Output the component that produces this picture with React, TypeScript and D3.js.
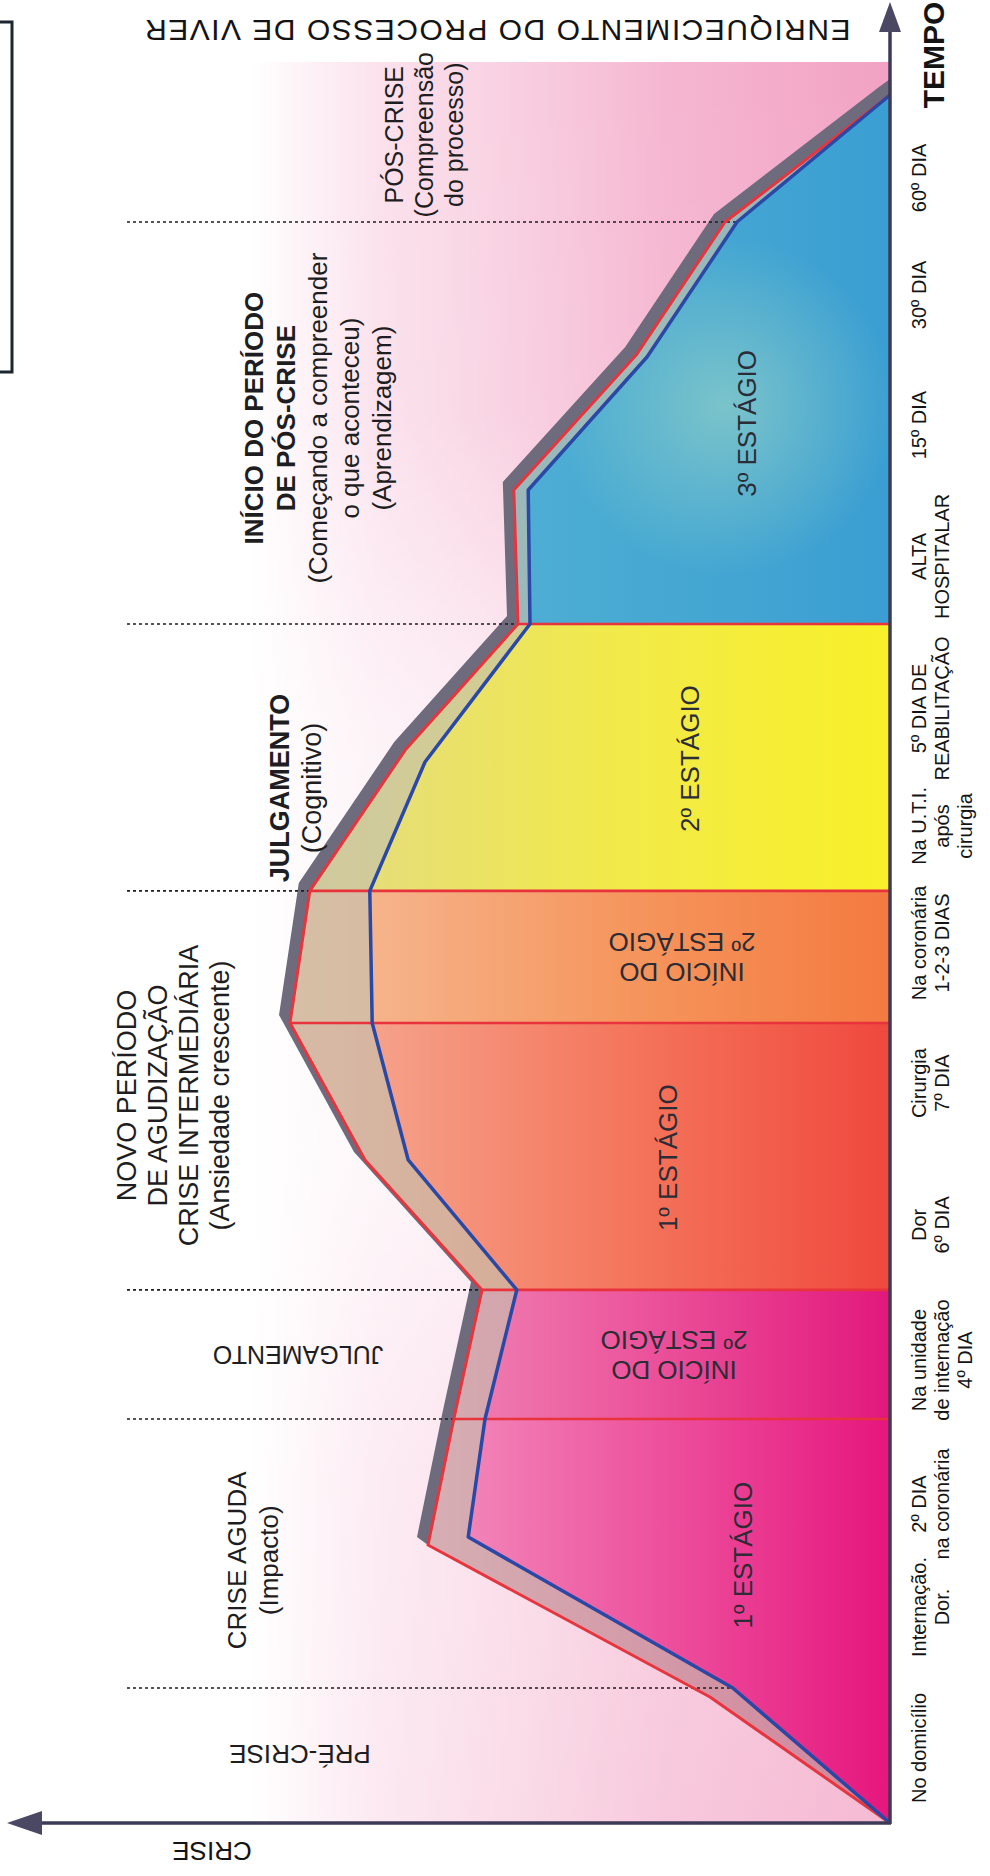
import React from 'react';
import * as d3 from 'd3';

const WIDTH = 990;
const HEIGHT = 1876;

// [tempo, crise] - outer (red) and inner (blue) course of the crisis
const outerCurve: [number, number][] = [
  [0, 0], [7.29, 30.0], [16.09, 77.0], [23.38, 72.7], [30.85, 68.0], [38.37, 87.5],
  [46.3, 100], [53.94, 96.7], [62.09, 80.8], [69.39, 62.0], [77.14, 62.7],
  [84.95, 42.3], [92.65, 27.5], [100, 0],
];
const innerCurve: [number, number][] = [
  [0, 0], [7.81, 26.2], [16.55, 70.3], [23.38, 67.5], [30.85, 62.2], [38.37, 80.3],
  [46.3, 86.3], [53.94, 86.7], [61.4, 77.5], [69.39, 60.0], [77.14, 60.3],
  [84.84, 40.5], [92.65, 25.5], [100, 0],
];

const stageEdges = [0, 23.38, 30.85, 46.3, 53.94, 69.39, 100];
const stageNames = [
  ['1º ESTÁGIO'],
  ['INÍCIO DO', '2º ESTÁGIO'],
  ['1º ESTÁGIO'],
  ['INÍCIO DO', '2º ESTÁGIO'],
  ['2º ESTÁGIO'],
  ['3º ESTÁGIO'],
];

const periodEdges = [7.81, 23.38, 30.85, 53.94, 69.39, 92.65];
const periodNames = [
  ['PRÉ-CRISE'],
  ['CRISE AGUDA', '(Impacto)'],
  ['JULGAMENTO'],
  ['NOVO PERÍODO', 'DE AGUDIZAÇÃO', 'CRISE INTERMEDIÁRIA', '(Ansiedade crescente)'],
  ['JULGAMENTO', '(Cognitivo)'],
  ['INÍCIO DO PERÍODO', 'DE PÓS-CRISE', '(Começando a compreender', 'o que aconteceu)', '(Aprendizagem)'],
  ['PÓS-CRISE', '(Compreensão', 'do processo)'],
];

const timeTicks = [4.34, 12.5, 18.46, 26.79, 34.61, 42.82, 50.93, 57.7, 64.5, 73.3, 80.9, 88.43, 95.2];
const timeLabels = [
  ['No domicílio'],
  ['Internação.', 'Dor.'],
  ['2º DIA', 'na coronária'],
  ['Na unidade', 'de internação', '4º DIA'],
  ['Dor', '6º DIA'],
  ['Cirurgia', '7º DIA'],
  ['Na coronária', '1-2-3 DIAS'],
  ['Na U.T.I.', 'após', 'cirurgia'],
  ['5º DIA DE', 'REABILITAÇÃO'],
  ['ALTA', 'HOSPITALAR'],
  ['15º DIA'],
  ['30º DIA'],
  ['60º DIA'],
];

// styling
const FONT = 'Liberation Sans, Arial, Helvetica, sans-serif';
const stageGradients = [
  ['#f6b0ce', '#ee5aa2', '#e6167e'],
  ['#f2a4c4', '#ec589e', '#e2187c'],
  ['#f6ae98', '#f4765c', '#f0483e'],
  ['#f6bc98', '#f5965e', '#f47a40'],
  ['#e2da86', '#f2ea48', '#f8f028'],
  ['#5cb4d8', '#48aad2', '#3a9ed2'],
];
const stageLabelPos = [
  { t: 15.5, x: 743, rot: -90 },
  { t: 27.1, x: 674, rot: 180 },
  { t: 38.5, x: 668, rot: -90 },
  { t: 50.1, x: 682, rot: 180 },
  { t: 61.6, x: 690, rot: -90 },
  { t: 81.0, x: 747, rot: -90 },
];
// x centre, rotation, font size, line gap, bold lines, t centre
const periodLabelPos = [
  { x: 300, rot: 180, size: 26, gap: 30, bold: 0, t: 4.0 },
  { x: 253, rot: -90, size: 26, gap: 32, bold: 0, t: 15.2 },
  { x: 298, rot: 180, size: 25, gap: 30, bold: 0, t: 27.1 },
  { x: 173, rot: -90, size: 27, gap: 31, bold: 0, t: 42.1 },
  { x: 296, rot: -90, size: 27, gap: 32, bold: 1, t: 59.9 },
  { x: 318, rot: -90, size: 26, gap: 32, bold: 2, t: 81.3 },
  { x: 424, rot: -90, size: 25, gap: 30, bold: 0, t: 97.7 },
];

const crisisAt = (curve: [number, number][], t: number) => {
  for (let i = 1; i < curve.length; i++) {
    const [t0, c0] = curve[i - 1];
    const [t1, c1] = curve[i];
    if (t <= t1) return t1 === t0 ? c1 : c0 + ((c1 - c0) * (t - t0)) / (t1 - t0);
  }
  return curve[curve.length - 1][1];
};

const Lines: React.FC<{ cx: number; cy: number; rot: number; lines: string[]; size: number; gap: number; weights?: (i: number) => number; fill?: string; spacing?: number }> = ({ cx, cy, rot, lines, size, gap, weights, fill = '#1e1e22', spacing = 0 }) => (
  <text transform={`translate(${cx},${cy}) rotate(${rot})`} textAnchor="middle" fontFamily={FONT} fontSize={size} fill={fill} letterSpacing={spacing}>
    {lines.map((s, i) => (
      <tspan key={i} x={0} y={(i - (lines.length - 1) / 2) * gap} dominantBaseline="central" fontWeight={weights ? weights(i) : 400}>
        {s}
      </tspan>
    ))}
  </text>
);

const App: React.FC = () => {
  const y = d3.scaleLinear().domain([0, 100]).range([1823, 95]);
  const x = d3.scaleLinear().domain([0, 100]).range([890, 290]);
  const line = d3.line<[number, number]>().x((d) => x(d[1])).y((d) => y(d[0]));

  const outerPath = line(outerCurve) as string;
  const innerPath = line(innerCurve) as string;

  const toPt = ([t, c]: [number, number]) => [x(c), y(t)] as [number, number];

  // ring between red and blue courses
  const ringPts = [...outerCurve.map(toPt), ...innerCurve.slice().reverse().map(toPt)];
  const ringPath = 'M' + ringPts.map((p) => p.join(',')).join('L') + 'Z';

  // grey shadow strip along the outer course, from the first peak on
  const fromPeak = outerCurve.slice(2);
  const shadowPts: [number, number][] = [
    ...fromPeak.map(([t, c]) => [x(c) - 11, y(t) - 8] as [number, number]),
    [x(0), y(100) - 16],
    ...fromPeak.slice().reverse().map(toPt),
  ];
  const shadowPath = 'M' + shadowPts.map((p) => p.join(',')).join('L') + 'Z';

  const axisX = x(0);
  const axisY = y(0);

  return (
    <svg width={WIDTH} height={HEIGHT} viewBox={`0 0 ${WIDTH} ${HEIGHT}`} style={{ position: 'absolute', left: 0, top: 0, background: '#fff' }}>
      <defs>
        <linearGradient id="bgH" gradientUnits="userSpaceOnUse" x1={250} y1={0} x2={890} y2={0}>
          <stop offset="0" stopColor="#f7c4da" stopOpacity={0} />
          <stop offset="0.2" stopColor="#f7c4da" stopOpacity={0.5} />
          <stop offset="0.65" stopColor="#f4aecb" stopOpacity={0.9} />
          <stop offset="1" stopColor="#f2a2c4" stopOpacity={1} />
        </linearGradient>
        <linearGradient id="bgV" gradientUnits="userSpaceOnUse" x1={0} y1={62} x2={0} y2={1823}>
          <stop offset="0" stopColor="#fff" stopOpacity={0} />
          <stop offset="0.2" stopColor="#fff" stopOpacity={0.05} />
          <stop offset="0.38" stopColor="#fff" stopOpacity={0.6} />
          <stop offset="0.62" stopColor="#fff" stopOpacity={0.72} />
          <stop offset="0.8" stopColor="#fff" stopOpacity={0.35} />
          <stop offset="1" stopColor="#fff" stopOpacity={0.25} />
        </linearGradient>
        {stageGradients.map((g, i) => (
          <linearGradient key={i} id={`stage${i}`} gradientUnits="userSpaceOnUse" x1={300} y1={0} x2={890} y2={0}>
            <stop offset="0" stopColor={g[0]} />
            <stop offset="0.55" stopColor={g[1]} />
            <stop offset="1" stopColor={g[2]} />
          </linearGradient>
        ))}
        <radialGradient id="blueGlow" gradientUnits="userSpaceOnUse" cx={725} cy={y(82)} r={170}>
          <stop offset="0" stopColor="#a8dcc4" stopOpacity={0.55} />
          <stop offset="1" stopColor="#a8dcc4" stopOpacity={0} />
        </radialGradient>
        <clipPath id="under">
          <path d={outerPath + 'Z'} />
        </clipPath>
      </defs>

      {/* background */}
      <rect x={100} y={62} width={axisX - 100} height={axisY - 62} fill="url(#bgH)" />
      <rect x={100} y={62} width={axisX - 100} height={axisY - 62} fill="url(#bgV)" />

      {/* shadow strip */}
      <path d={shadowPath} fill="#6e6c7c" />

      {/* stages */}
      <g clipPath="url(#under)">
        {stageNames.map((_, i) => (
          <rect key={i} x={250} y={y(stageEdges[i + 1])} width={axisX - 250} height={y(stageEdges[i]) - y(stageEdges[i + 1])} fill={`url(#stage${i})`} />
        ))}
        <rect x={550} y={y(100)} width={axisX - 550} height={y(69.39) - y(100)} fill="url(#blueGlow)" />
      </g>
      <path d={ringPath} fill="#c4c0ae" fillOpacity={0.65} />

      {/* period boundaries */}
      {periodEdges.map((t, i) => (
        <line key={i} x1={127} x2={x(crisisAt(innerCurve, t))} y1={y(t)} y2={y(t)} stroke="#1e1e1e" strokeWidth={1.6} strokeDasharray="3 3" />
      ))}
      {stageEdges.slice(1, -1).map((t, i) => (
        <line key={i} x1={x(crisisAt(outerCurve, t))} x2={axisX} y1={y(t)} y2={y(t)} stroke="#e8323c" strokeWidth={2.6} />
      ))}

      <path d={outerPath} fill="none" stroke="#e6353e" strokeWidth={3} strokeLinejoin="round" />
      <path d={innerPath} fill="none" stroke="#2a48a6" strokeWidth={3.5} strokeLinejoin="round" />

      {/* axes */}
      <line x1={axisX} y1={axisY + 1} x2={axisX} y2={26} stroke="#3c3a56" strokeWidth={3.5} />
      <polygon points={`${axisX},2 ${axisX - 11},32 ${axisX + 11},32`} fill="#4a4862" />
      <line x1={axisX + 1} y1={axisY} x2={36} y2={axisY} stroke="#3c3a56" strokeWidth={3.5} />
      <polygon points={`7,${axisY} 42,${axisY - 12} 42,${axisY + 12}`} fill="#4a4862" />

      {/* stage labels */}
      {stageNames.map((lines, i) => (
        <Lines key={i} cx={stageLabelPos[i].x} cy={y(stageLabelPos[i].t)} rot={stageLabelPos[i].rot} lines={lines} size={26} gap={30} fill="#2c2c36" />
      ))}

      {/* period labels */}
      {periodNames.map((lines, i) => {
        const p = periodLabelPos[i];
        return (
          <Lines key={i} cx={p.x} cy={y(p.t)} rot={p.rot} lines={lines} size={p.size} gap={p.gap}
            weights={(k) => ((p.bold === 1 && k === 0) || (p.bold === 2 && k < 2) ? 700 : 400)} />
        );
      })}

      {/* time axis labels */}
      {timeLabels.map((lines, i) => (
        <Lines key={i} cx={919 + ((lines.length - 1) * 23) / 2} cy={y(timeTicks[i])} rot={-90} lines={lines} size={20} gap={23} fill="#141414" />
      ))}
      <Lines cx={933} cy={55} rot={-90} lines={['TEMPO']} size={30} gap={30} weights={() => 700} fill="#141414" />
      <Lines cx={212} cy={1851} rot={180} lines={['CRISE']} size={26} gap={26} fill="#141414" />
      <Lines cx={497} cy={30} rot={180} lines={['ENRIQUECIMENTO DO PROCESSO DE VIVER']} size={30} gap={30} spacing={1.5} fill="#141414" />

      {/* frame fragment at the top left */}
      <path d="M0,22 H12 V372 H0" fill="none" stroke="#1c2630" strokeWidth={3} />
    </svg>
  );
};

export default App;
